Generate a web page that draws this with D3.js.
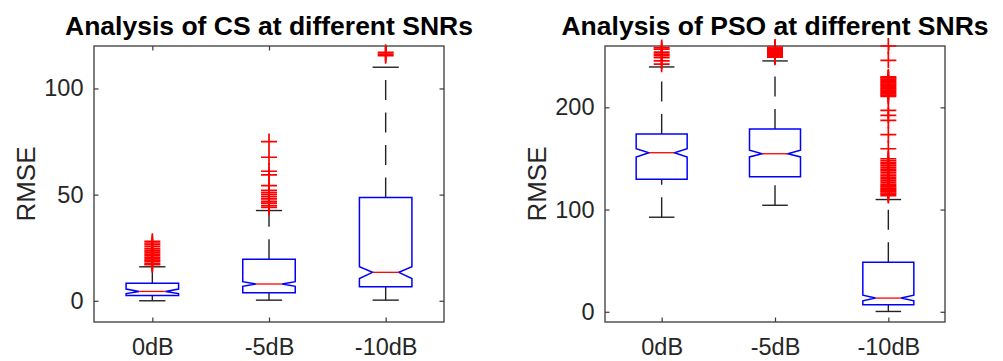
<!DOCTYPE html>
<html>
<head>
<meta charset="utf-8">
<script src="https://cdn.jsdelivr.net/npm/d3@7"></script>
<style>
  html, body { margin: 0; padding: 0; background: #ffffff; }
  svg { display: block; }
  text { font-family: "Liberation Sans", Arial, Helvetica, sans-serif; }
</style>
</head>
<body>
<svg id="chart" width="1003" height="361"></svg>
<script>
// ---------- data ----------
const categories = ["0dB", "-5dB", "-10dB"];

// CS
const csTitle = "Analysis of CS at different SNRs";
const csYTicks = [0, 50, 100];
const csYDomain = [-10, 120];
const csQ1 = [2.5, 3.8, 6.6];
const csMedian = [4.4, 7.9, 13.4];
const csQ3 = [8.2, 19.5, 48.7];
const csNotchLo = [3.4, 6.8, 10.5];
const csNotchHi = [5.5, 9.0, 16.0];
const csWhiskerLo = [0, 0.3, 0.3];
const csWhiskerHi = [16.0, 42.5, 110];
const csOutliers0 = [17.0, 17.5, 18.4, 19.0, 19.7, 20.5, 21.2, 22.0, 22.8, 23.5, 24.4, 25.5, 26.4, 27.2, 28.0];
const csOutliers5 = [44.0, 44.8, 46.0, 46.8, 48.0, 49.0, 50.0, 50.9, 52.0, 54.2, 59.3, 61.0, 67.6, 75.0];
const csOutliers10 = [115.4, 116.2, 117.0];

// PSO
const psoTitle = "Analysis of PSO at different SNRs";
const psoYTicks = [0, 100, 200];
const psoYDomain = [-10, 260];
const psoQ1 = [129.7, 132.0, 6.9];
const psoMedian = [155.6, 154.6, 13.4];
const psoQ3 = [173.8, 178.7, 48.4];
const psoNotchLo = [151.3, 151.5, 10.7];
const psoNotchHi = [159.5, 158.0, 16.2];
const psoWhiskerLo = [92.5, 104.2, 0.3];
const psoWhiskerHi = [239.5, 245.4, 109.8];
const psoOutliers0 = [242.2, 245.4, 248.7, 250.5, 252.0, 254.0, 256.9, 258.5];
const psoOutliers5 = [249.0, 250.0, 251.0, 252.0, 253.0, 254.0, 255.0, 256.0, 257.0, 258.0, 259.0];
const psoOutliers10 = [113.7, 115.0, 116.2, 117.5, 118.6, 119.8, 121.0, 122.3, 123.5, 124.8, 126.8,
  128.4, 130.0, 131.6, 133.2, 134.8, 136.5, 138.0, 139.6, 141.2, 143.0, 144.6, 146.2, 148.0, 149.7,
  159.5, 173.3, 187.3, 192.2, 197.0,
  210.8, 212.0, 213.2, 214.4, 215.6, 216.8, 218.0, 219.2, 220.4, 221.6, 222.8, 224.0, 225.2, 226.4, 227.6, 228.8, 229.7,
  246.0, 260.0];

const yLabel = "RMSE";

// ---------- drawing ----------
const svg = d3.select("#chart");
const AXIS_COLOR = "#3a3a3a";
const TEXT_COLOR = "#262626";

function drawPanel(cfg) {
  const { left, right, top, bottom, yDomain, yTicks, title, q1, med, q3, nlo, nhi, wlo, whi, outliers } = cfg;
  const g = svg.append("g");
  const x = d3.scalePoint().domain(categories).range([left, right]).padding(0.5);
  const y = d3.scaleLinear().domain(yDomain).range([bottom, top]);
  const step = x.step();
  const bw = step * 0.45;

  // axes frame ticks
  const ax = g.append("g").attr("class", "axes");
  const leftAxis = d3.axisLeft(y).tickValues(yTicks).tickSize(-4.5).tickPadding(10.5).tickFormat(d3.format("d"));
  const rightAxis = d3.axisRight(y).tickValues(yTicks).tickSize(-4.5).tickFormat("");
  const bottomAxis = d3.axisBottom(x).tickSize(-4.5).tickPadding(16);
  const topAxis = d3.axisTop(x).tickSize(-4.5).tickFormat("");

  const la = ax.append("g").attr("transform", `translate(${left},0)`).call(leftAxis);
  const ra = ax.append("g").attr("transform", `translate(${right},0)`).call(rightAxis);
  const ba = ax.append("g").attr("transform", `translate(0,${bottom})`).call(bottomAxis);
  const ta = ax.append("g").attr("transform", `translate(0,${top})`).call(topAxis);
  [la, ra, ba, ta].forEach(a => {
    a.select(".domain").remove();
    a.selectAll("line").attr("stroke", AXIS_COLOR).attr("stroke-width", 1.2);
    a.selectAll("text").attr("fill", TEXT_COLOR).style("font-size", "23.5px")
      .style("font-family", '"Liberation Sans", Arial, sans-serif');
  });

  // frame
  ax.append("rect").attr("x", left).attr("y", top)
    .attr("width", right - left).attr("height", bottom - top)
    .attr("fill", "none").attr("stroke", AXIS_COLOR).attr("stroke-width", 1.3);

  // y label
  g.append("text")
    .attr("transform", `translate(${left - 59},${(top + bottom) / 2}) rotate(-90)`)
    .attr("text-anchor", "middle")
    .attr("fill", TEXT_COLOR)
    .style("font-size", "26px")
    .text(yLabel);

  // title
  g.append("text")
    .attr("x", (left + right) / 2).attr("y", 34.5)
    .attr("text-anchor", "middle")
    .attr("fill", "#000")
    .style("font-size", "26.5px").style("font-weight", "bold")
    .text(title);

  const boxes = g.append("g");
  categories.forEach((c, i) => {
    const cx = x(c);
    const gb = boxes.append("g");
    // whiskers (dashed), drawn in increasing-value direction
    gb.append("line").attr("x1", cx).attr("x2", cx)
      .attr("y1", y(q3[i])).attr("y2", y(whi[i]))
      .attr("stroke", "#222").attr("stroke-width", 1.4).attr("stroke-dasharray", "20 12.5");
    gb.append("line").attr("x1", cx).attr("x2", cx)
      .attr("y1", y(wlo[i])).attr("y2", y(q1[i]))
      .attr("stroke", "#222").attr("stroke-width", 1.4).attr("stroke-dasharray", "20 12.5");
    // caps
    [wlo[i], whi[i]].forEach(v => {
      gb.append("line").attr("x1", cx - bw / 4).attr("x2", cx + bw / 4)
        .attr("y1", y(v)).attr("y2", y(v))
        .attr("stroke", "#222").attr("stroke-width", 1.4);
    });
    // notched box
    const x0 = cx - bw / 2, x1 = cx + bw / 2, xi0 = cx - bw / 4, xi1 = cx + bw / 4;
    const pts = [
      [x0, y(q1[i])], [x0, y(nlo[i])], [xi0, y(med[i])], [x0, y(nhi[i])], [x0, y(q3[i])],
      [x1, y(q3[i])], [x1, y(nhi[i])], [xi1, y(med[i])], [x1, y(nlo[i])], [x1, y(q1[i])]
    ];
    gb.append("path").attr("d", d3.line()(pts) + "Z")
      .attr("fill", "none").attr("stroke", "#0000ff").attr("stroke-width", 1.5);
    // median
    gb.append("line").attr("x1", xi0).attr("x2", xi1)
      .attr("y1", y(med[i])).attr("y2", y(med[i]))
      .attr("stroke", "#ff0000").attr("stroke-width", 1.3);
    // outliers
    const ps = 8;
    gb.selectAll("path.out").data(outliers[i]).enter().append("path")
      .attr("class", "out")
      .attr("d", v => `M${cx - ps},${y(v)}H${cx + ps}M${cx},${y(v) - ps}V${y(v) + ps}`)
      .attr("stroke", "#ff0000").attr("stroke-width", 1.7).attr("fill", "none");
  });
}

drawPanel({
  left: 94, right: 444, top: 46, bottom: 322,
  yDomain: csYDomain, yTicks: csYTicks, title: csTitle,
  q1: csQ1, med: csMedian, q3: csQ3, nlo: csNotchLo, nhi: csNotchHi,
  wlo: csWhiskerLo, whi: csWhiskerHi,
  outliers: [csOutliers0, csOutliers5, csOutliers10]
});

drawPanel({
  left: 605, right: 945, top: 46, bottom: 322,
  yDomain: psoYDomain, yTicks: psoYTicks, title: psoTitle,
  q1: psoQ1, med: psoMedian, q3: psoQ3, nlo: psoNotchLo, nhi: psoNotchHi,
  wlo: psoWhiskerLo, whi: psoWhiskerHi,
  outliers: [psoOutliers0, psoOutliers5, psoOutliers10]
});
</script>
</body>
</html>
